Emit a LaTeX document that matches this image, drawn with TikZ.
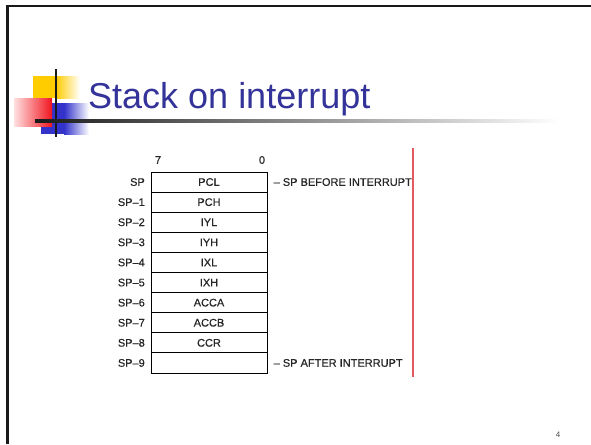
\documentclass[tikz,border=0pt]{standalone}
\usepackage{fontspec}
\setmainfont{Liberation Sans}
\newfontfamily\tabfont[FakeBold=0.4]{Liberation Sans}
\definecolor{titleblue}{RGB}{51,51,153}
\definecolor{logoyellow}{RGB}{255,204,0}
\definecolor{logoblue}{RGB}{51,51,204}
\definecolor{logored}{RGB}{240,20,30}
\definecolor{rulered}{RGB}{228,90,95}
\tikzset{
  tabtext/.style={font=\tabfont\fontsize{11}{11}\selectfont, text=black!85},
  cell/.style={draw, line width=1pt, minimum width=116pt, minimum height=20.1pt, inner sep=0pt, tabtext},
  leftlab/.style={anchor=east, inner sep=0pt, tabtext},
  rightlab/.style={anchor=west, inner sep=0pt, tabtext},
  bitlab/.style={inner sep=0pt, tabtext},
}
\begin{document}
\begin{tikzpicture}[x=1pt,y=-1pt]
\useasboundingbox (0,0) rectangle (591,444);
\fill[white] (0,0) rectangle (591,444);
% slide frame
\draw[line width=2.2pt, black!90] (7.5,444) -- (7.5,6) -- (591,6);
% logo
\fill[logoyellow] (33,76) rectangle (56,98);
\shade[left color=logoyellow, right color=white] (56,76) rectangle (80,98);
\fill[logoblue] (41,103) rectangle (64,134);
\shade[left color=logoblue, right color=white] (64,103) rectangle (89,134);
\shade[left color=red!12, right color=logored] (14,98) rectangle (52,126);
\draw[line width=2pt, black!90] (56,69) -- (56,137);
\shade[left color=black!90, right color=white] (35,119.5) rectangle (560,122.5);
% title
\node[anchor=base west, inner sep=0pt, text=titleblue, font=\fontsize{36}{36}\selectfont] (title) at (88,108) {Stack on interrupt};
% bit labels
\node[bitlab] (b7) at (158,160) {7};
\node[bitlab] (b0) at (262,160) {0};
% stack cells
\foreach \i/\t/\l in {0/PCL/SP,1/PCH/SP–1,2/IYL/SP–2,3/IYH/SP–3,4/IXL/SP–4,5/IXH/SP–5,6/ACCA/SP–6,7/ACCB/SP–7,8/CCR/SP–8,9/{}/SP–9}{
  \node[cell] (c\i) at (209,{172+20.1*(\i+0.5)}) {\t};
  \node[leftlab] (l\i) at (145,{172+20.1*(\i+0.5)}) {\l};
}
\node[rightlab] (before) at ([xshift=6pt]c0.east) {– SP BEFORE INTERRUPT};
\node[rightlab] (after) at ([xshift=6pt]c9.east) {– SP AFTER INTERRUPT};
% red rule
\fill[rulered] (412.4,148) rectangle (413.8,377);
% page number
\node[inner sep=0pt, text=black!70, font=\fontsize{8}{8}\selectfont] (pg) at (558,435) {4};
\end{tikzpicture}
\end{document}
